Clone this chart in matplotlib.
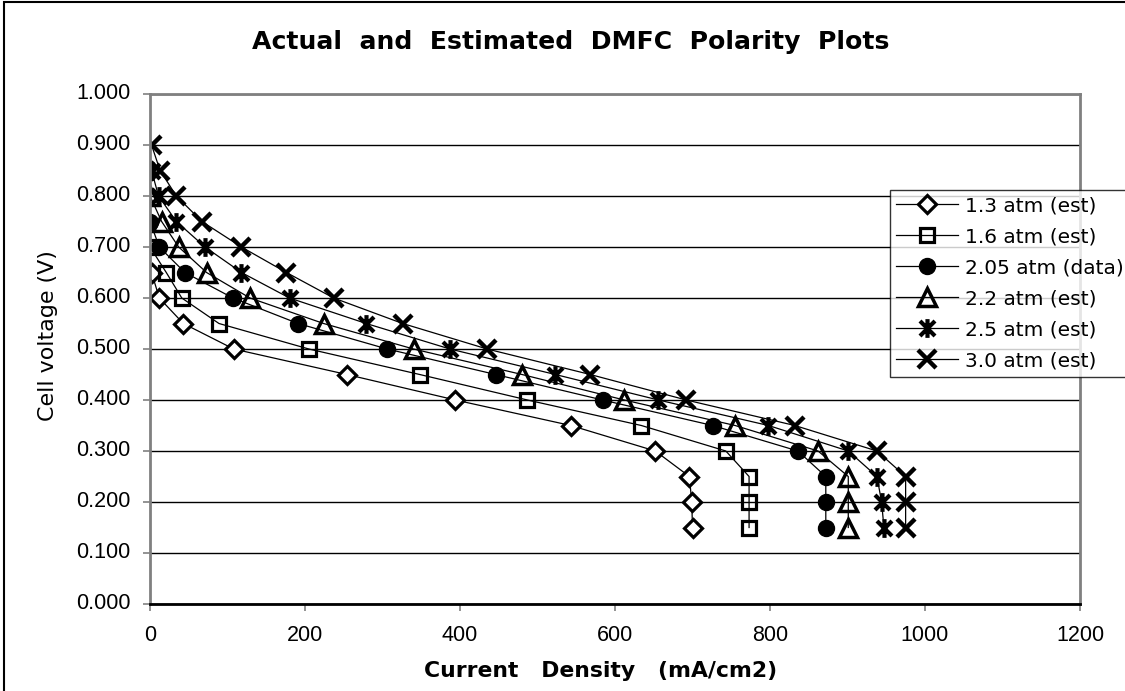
import numpy as np
import matplotlib
matplotlib.use('Agg')
import matplotlib.pyplot as plt
import matplotlib.transforms as mtransforms
from matplotlib.path import Path

# data
v_13 = [0.65, 0.60, 0.55, 0.50, 0.45, 0.40, 0.35, 0.30, 0.25, 0.20, 0.15]
i_13 = [2, 12, 43, 108, 254, 394, 543, 652, 696, 699, 700]

v_16 = [0.70, 0.65, 0.60, 0.55, 0.50, 0.45, 0.40, 0.35, 0.30, 0.25, 0.20, 0.15]
i_16 = [0, 21, 41, 89, 205, 348, 487, 634, 743, 773, 773, 773]

v_205 = [0.75, 0.70, 0.65, 0.60, 0.55, 0.50, 0.45, 0.40, 0.35, 0.30, 0.25, 0.20, 0.15]
i_205 = [0, 12, 45, 107, 191, 306, 446, 584, 726, 836, 872, 872, 872]

v_22 = [0.80, 0.75, 0.70, 0.65, 0.60, 0.55, 0.50, 0.45, 0.40, 0.35, 0.30, 0.25, 0.20, 0.15]
i_22 = [0, 15, 37, 73, 129, 224, 340, 480, 612, 755, 862, 901, 901, 901]

v_25 = [0.85, 0.80, 0.75, 0.70, 0.65, 0.60, 0.55, 0.50, 0.45, 0.40, 0.35, 0.30, 0.25, 0.20, 0.15]
i_25 = [2, 11, 34, 71, 118, 180, 279, 387, 523, 656, 798, 901, 938, 944, 947]

v_30 = [0.90, 0.85, 0.80, 0.75, 0.70, 0.65, 0.60, 0.55, 0.50, 0.45, 0.40, 0.35, 0.30, 0.25, 0.20, 0.15]
i_30 = [2, 13, 34, 67, 118, 176, 237, 326, 435, 568, 692, 832, 938, 975, 975, 975]

labels = ['1.3 atm (est)', '1.6 atm (est)', '2.05 atm (data)',
          '2.2 atm (est)', '2.5 atm (est)', '3.0 atm (est)']

xticks = [0, 200, 400, 600, 800, 1000, 1200]
yticks = [0.0, 0.1, 0.2, 0.3, 0.4, 0.5, 0.6, 0.7, 0.8, 0.9, 1.0]

# excel style asterisk: vertical bar plus an x
ast = Path([(0, -1), (0, 1), (-0.8, -0.8), (0.8, 0.8), (-0.8, 0.8), (0.8, -0.8)],
           [Path.MOVETO, Path.LINETO] * 3)

W, H = 1125, 691
plt.rcParams['font.family'] = ['DejaVu Sans']
tickfont = ['Liberation Sans', 'Arial', 'DejaVu Sans']

fig = plt.figure(figsize=(W / 100, H / 100), dpi=100)
ax = fig.add_axes([150 / W, 1 - 604 / H, 930 / W, 510 / H])

series = [
    (i_13, v_13, dict(marker='D', ms=9.5, mfc='white', mec='black', mew=2.3)),
    (i_16, v_16, dict(marker='s', ms=9.5, mfc='none', mec='black', mew=2.3)),
    (i_205, v_205, dict(marker='o', ms=11.5, mfc='black', mec='black', mew=1)),
    (i_22, v_22, dict(marker='^', ms=12.5, mfc='none', mec='black', mew=2.5)),
    (i_25, v_25, dict(marker=ast, ms=13.5, mec='black', mew=3)),
    (i_30, v_30, dict(marker='x', ms=13.5, mec='black', mew=3.2)),
]
for (x, y, style), lab in zip(series, labels):
    ax.plot(x, y, color='black', lw=0.9, label=lab, **style)

ax.set_xlim(0, 1200)
ax.set_ylim(0, 1.0)
ax.set_xticks(xticks)
ax.set_yticks(yticks)
ax.set_xticklabels([str(t) for t in xticks], family=tickfont, fontsize=15.5)
ax.set_yticklabels(['%.3f' % t for t in yticks], family=tickfont, fontsize=15.5)
ax.tick_params(direction='out', length=5, color='#808080', width=1.2)
ax.tick_params(axis='y', pad=9)
ax.tick_params(axis='x', pad=10)
up = mtransforms.ScaledTranslation(0, 2 / 72, fig.dpi_scale_trans)
for lbl in ax.get_yticklabels():
    lbl.set_transform(lbl.get_transform() + up)

ax.grid(axis='y', color='black', lw=1)
ax.set_axisbelow(True)
for s in ['top', 'right', 'left']:
    ax.spines[s].set_color('#808080')
    ax.spines[s].set_linewidth(2)
ax.spines['bottom'].set_color('black')
ax.spines['bottom'].set_linewidth(2)

title = fig.text(571 / W, 1 - 42 / H, 'Actual  and  Estimated  DMFC  Polarity  Plots',
                 fontsize=18, fontweight='bold', ha='center', va='center')
xlab = fig.text(601 / W, 1 - 671 / H, 'Current   Density   (mA/cm2)',
                fontsize=16, fontweight='bold', ha='center', va='center')
ylab = fig.text(48 / W, 1 - 336 / H, 'Cell voltage (V)', fontsize=14,
                rotation=90, ha='center', va='center')

# scale the three labels to the widths they take in the reference
fig.canvas.draw()
r = fig.canvas.get_renderer()
for t, target, horiz in [(title, 637, True), (xlab, 353, True), (ylab, 171, False)]:
    bb = t.get_window_extent(r)
    size = bb.width if horiz else bb.height
    t.set_fontsize(t.get_fontsize() * target / size)

leg = fig.legend(loc='upper left', bbox_to_anchor=(890 / W, 1 - 190 / H),
                 frameon=True, fancybox=False, edgecolor='black', fontsize=14.5,
                 handlelength=3.1, handletextpad=0.3, labelspacing=0.6,
                 borderpad=0.3, borderaxespad=0)
leg.get_frame().set_linewidth(1)

# outer chart border
fig.patches.append(plt.Rectangle((4 / W, -0.1), 1.2, 1.1 - 2 / H, transform=fig.transFigure,
                                 fill=False, edgecolor='black', lw=1.5))

fig.savefig('out.png', dpi=100)
